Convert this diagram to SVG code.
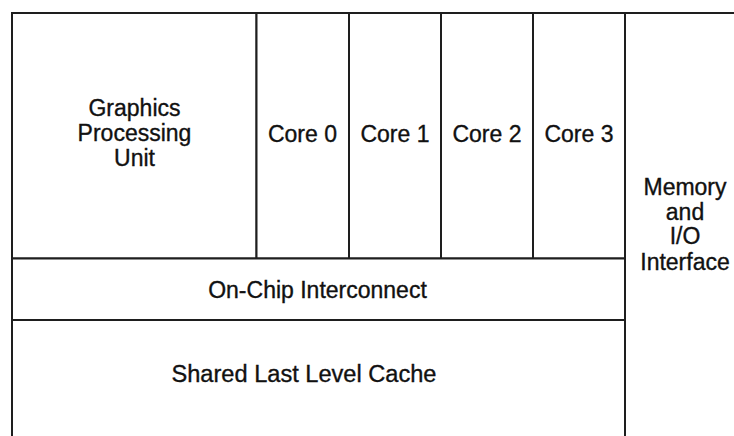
<svg xmlns="http://www.w3.org/2000/svg" width="734" height="436" viewBox="0 0 734 436">
<style>
.b{fill:#fff;stroke:#1e1e1e;stroke-width:2}
.t{font-family:"Liberation Sans",Arial,sans-serif;font-size:23px;fill:#111;stroke:#111;stroke-width:0.35;text-anchor:middle}
</style>
<rect width="734" height="436" fill="#fff"/>
<g id="gpu"><rect class="b" x="12" y="13" width="244.5" height="245.5"/>
<text class="t" x="134.5" y="116">Graphics</text><text class="t" x="134.5" y="141">Processing</text><text class="t" x="134.5" y="166">Unit</text></g>
<g id="core0"><rect class="b" x="256.5" y="13" width="92.5" height="245.5"/><text class="t" x="302.5" y="142">Core 0</text></g>
<g id="core1"><rect class="b" x="349" y="13" width="92" height="245.5"/><text class="t" x="395" y="142">Core 1</text></g>
<g id="core2"><rect class="b" x="441" y="13" width="92" height="245.5"/><text class="t" x="487" y="142">Core 2</text></g>
<g id="core3"><rect class="b" x="533" y="13" width="92" height="245.5"/><text class="t" x="579" y="142">Core 3</text></g>
<g id="interconnect"><rect class="b" x="12" y="258.5" width="613" height="61.5"/><text class="t" x="317.5" y="298">On-Chip Interconnect</text></g>
<g id="cache"><rect class="b" x="12" y="320" width="613" height="130"/><text class="t" x="304" y="382" textLength="265" lengthAdjust="spacingAndGlyphs">Shared Last Level Cache</text></g>
<g id="memory"><rect class="b" x="625" y="13" width="130" height="440"/>
<text class="t" x="685" y="195">Memory</text><text class="t" x="685" y="219.5">and</text><text class="t" x="685" y="244">I/O</text><text class="t" x="685" y="270">Interface</text></g>
<g id="connectors"></g>
</svg>
